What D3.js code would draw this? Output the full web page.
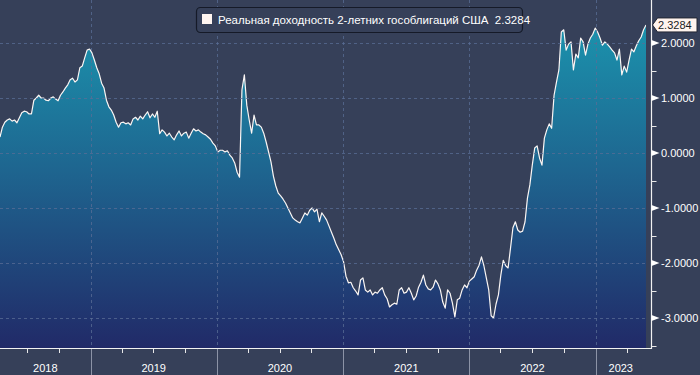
<!DOCTYPE html>
<html>
<head>
<meta charset="utf-8">
<script src="https://cdn.jsdelivr.net/npm/d3@7"></script>
<style>
  html, body { margin: 0; padding: 0; background: #364059; }
  svg { display: block; }
  text { font-family: "Liberation Sans", Arial, sans-serif; }
</style>
</head>
<body>
<script>
// weekly series, first value on startDate
var startDate = new Date(2018, 3, 14);
var yields = [
  0.29, 0.47, 0.56, 0.60, 0.62, 0.58, 0.60, 0.55, 0.64, 0.73,
  0.76, 0.75, 0.71, 0.71, 0.96, 1.00, 1.05, 1.00, 1.00, 0.96,
  0.95, 1.00, 1.02, 0.98, 0.95, 1.05, 1.11, 1.18, 1.24, 1.33,
  1.36, 1.29, 1.33, 1.55, 1.58, 1.73, 1.87, 1.89, 1.82, 1.69,
  1.55, 1.44, 1.27, 1.18, 0.96, 0.84, 0.78, 0.69, 0.56, 0.47,
  0.55, 0.56, 0.53, 0.55, 0.51, 0.62, 0.65, 0.60, 0.67, 0.62,
  0.69, 0.75, 0.64, 0.71, 0.65, 0.76, 0.35, 0.42, 0.38, 0.31,
  0.36, 0.29, 0.24, 0.33, 0.40, 0.31, 0.36, 0.38, 0.27, 0.36,
  0.44, 0.40, 0.42, 0.38, 0.35, 0.33, 0.29, 0.25, 0.18, 0.13,
  0.02, 0.05, 0.05, 0.02, 0.04, -0.04, -0.09, -0.18, -0.35, -0.44,
  1.15, 1.42, 0.87, 0.60, 0.36, 0.69, 0.51, 0.51, 0.47, 0.36,
  0.20, 0.02, -0.16, -0.42, -0.60, -0.73, -0.78, -0.84, -0.91, -1.00,
  -1.09, -1.18, -1.22, -1.25, -1.27, -1.18, -1.09, -1.13, -1.04, -1.00,
  -1.07, -1.02, -1.25, -1.09, -1.15, -1.22, -1.33, -1.44, -1.55, -1.67,
  -1.76, -1.85, -1.98, -2.24, -2.36, -2.35, -2.45, -2.51, -2.58, -2.31,
  -2.27, -2.49, -2.53, -2.49, -2.58, -2.53, -2.55, -2.49, -2.45, -2.58,
  -2.65, -2.80, -2.76, -2.73, -2.75, -2.49, -2.45, -2.55, -2.53, -2.45,
  -2.55, -2.67, -2.60, -2.44, -2.35, -2.22, -2.40, -2.47, -2.49, -2.44,
  -2.31, -2.38, -2.49, -2.71, -2.82, -2.49, -2.55, -2.73, -2.98, -2.67,
  -2.64, -2.49, -2.40, -2.45, -2.33, -2.29, -2.25, -2.13, -2.04, -1.89,
  -2.05, -2.27, -2.49, -2.96, -3.00, -2.75, -2.58, -2.22, -1.95, -2.05,
  -2.09, -1.73, -1.36, -1.25, -1.40, -1.44, -1.42, -1.25, -0.82, -0.58,
  -0.22, 0.09, 0.13, -0.09, -0.22, 0.27, 0.42, 0.53, 0.45, 1.05,
  1.29, 1.51, 2.20, 2.24, 1.87, 1.98, 2.02, 1.51, 1.80, 1.73,
  2.09, 2.02, 1.78, 1.98, 2.09, 2.16, 2.27, 2.20, 2.09, 1.96,
  2.02, 1.98, 1.93, 1.87, 1.82, 1.69, 1.89, 1.42, 1.58, 1.47,
  1.69, 1.89, 1.84, 1.95, 2.04, 2.11, 2.24, 2.3284
];
var yTicks = [-3, -2, -1, 0, 1, 2];
var yMinorTicks = [-3.5, -2.5, -1.5, -0.5, 0.5, 1.5];
var yearLabels = ["2018", "2019", "2020", "2021", "2022", "2023"];
var seriesName = "Реальная доходность 2-летних гособлигаций США";
var lastValue = 2.3284;

var W = 700, H = 375,
    plotRight = 646, axisX = 651.5, axisY = 348;

var data = yields.map(function(v, i) {
  return { date: d3.timeDay.offset(startDate, 7 * i), value: v };
});

var x = d3.scaleTime()
  .domain(d3.extent(data, function(d) { return d.date; }))
  .range([0, plotRight]);
var y = d3.scaleLinear()
  .domain([-3, 2])
  .range([318, 43]);

var svg = d3.select("body").append("svg")
  .attr("width", W)
  .attr("height", H);

var defs = svg.append("defs");
var grad = defs.append("linearGradient")
  .attr("id", "fillGrad")
  .attr("gradientUnits", "userSpaceOnUse")
  .attr("x1", 0).attr("x2", 0)
  .attr("y1", 20).attr("y2", axisY);
grad.append("stop").attr("offset", "0%").attr("stop-color", "#1b94ae");
grad.append("stop").attr("offset", "45%").attr("stop-color", "#1e6690");
grad.append("stop").attr("offset", "100%").attr("stop-color", "#212a68");

defs.append("clipPath").attr("id", "plotClip")
  .append("rect").attr("x", 0).attr("y", 0)
  .attr("width", plotRight).attr("height", axisY);

var area = d3.area()
  .x(function(d) { return x(d.date); })
  .y0(axisY)
  .y1(function(d) { return y(d.value); });
var line = d3.line()
  .x(function(d) { return x(d.date); })
  .y(function(d) { return y(d.value); });

var plot = svg.append("g").attr("clip-path", "url(#plotClip)");
plot.append("path")
  .datum(data)
  .attr("d", area)
  .attr("fill", "url(#fillGrad)");

// grid
var years = d3.timeYear.range(d3.timeYear.ceil(x.domain()[0]), x.domain()[1]);
var grid = svg.append("g");
grid.selectAll(".gy").data(yTicks).enter().append("line")
  .attr("x1", 0).attr("x2", plotRight)
  .attr("y1", function(d) { return Math.round(y(d)) + 0.5; })
  .attr("y2", function(d) { return Math.round(y(d)) + 0.5; })
  .attr("stroke", "#5a6e96").attr("stroke-opacity", 0.75)
  .attr("stroke-dasharray", "3,3");
grid.selectAll(".gx").data(years).enter().append("line")
  .attr("x1", function(d) { return Math.round(x(d)) + 0.5; })
  .attr("x2", function(d) { return Math.round(x(d)) + 0.5; })
  .attr("y1", 0).attr("y2", axisY)
  .attr("stroke", "#5a6e96").attr("stroke-opacity", 0.75)
  .attr("stroke-dasharray", "3,3");

plot.append("path")
  .datum(data)
  .attr("d", line)
  .attr("fill", "none")
  .attr("stroke", "#fbf6f4")
  .attr("stroke-width", 1.2)
  .attr("stroke-linejoin", "round");

// bottom axis
var xAxis = svg.append("g").attr("transform", "translate(0," + axisY + ")");
xAxis.append("line")
  .attr("x1", 0).attr("x2", axisX + 0.5)
  .attr("y1", 0.5).attr("y2", 0.5)
  .attr("stroke", "#f2f2f2").attr("stroke-width", 1.2);
var quarters = d3.timeMonth.every(3).range(x.domain()[0], x.domain()[1]);
xAxis.selectAll(".qt").data(quarters).enter().append("line")
  .attr("x1", function(d) { return Math.round(x(d)) + 0.5; })
  .attr("x2", function(d) { return Math.round(x(d)) + 0.5; })
  .attr("y1", 1).attr("y2", 5)
  .attr("stroke", "#e8e8e8");
xAxis.selectAll(".ysep").data(years).enter().append("line")
  .attr("x1", function(d) { return Math.round(x(d)) + 0.5; })
  .attr("x2", function(d) { return Math.round(x(d)) + 0.5; })
  .attr("y1", 1).attr("y2", H - axisY)
  .attr("stroke", "#8c93a6");
xAxis.selectAll(".yl").data(yearLabels).enter().append("text")
  .attr("x", function(d) {
    var a = Math.max(0, x(new Date(+d, 0, 1)));
    var b = Math.min(plotRight, x(new Date(+d + 1, 0, 1)));
    return (a + b) / 2;
  })
  .attr("y", 24)
  .attr("text-anchor", "middle")
  .attr("fill", "#ffffff")
  .attr("font-size", "11px")
  .text(function(d) { return d; });

// right axis
var yAxis = svg.append("g");
yAxis.append("line")
  .attr("x1", axisX).attr("x2", axisX)
  .attr("y1", 0).attr("y2", axisY + 1)
  .attr("stroke", "#f2f2f2").attr("stroke-width", 1.2);
yAxis.selectAll(".mt").data(yMinorTicks).enter().append("line")
  .attr("x1", axisX).attr("x2", axisX + 5)
  .attr("y1", function(d) { return Math.round(y(d)) + 0.5; })
  .attr("y2", function(d) { return Math.round(y(d)) + 0.5; })
  .attr("stroke", "#e8e8e8");
yAxis.selectAll(".tri").data(yTicks).enter().append("path")
  .attr("d", function(d) {
    var yy = y(d);
    return "M" + axisX + "," + (yy - 3) + "L" + (axisX + 8) + "," + yy + "L" + axisX + "," + (yy + 3) + "Z";
  })
  .attr("fill", "#ffffff");
yAxis.selectAll(".yl").data(yTicks).enter().append("text")
  .attr("x", 661)
  .attr("y", function(d) { return y(d) + 4; })
  .attr("fill", "#ffffff")
  .attr("font-size", "11px")
  .text(function(d) { return d3.format(".4f")(d).replace("−", "-"); });

// last value tag
var ly = y(lastValue);
svg.append("path")
  .attr("d", "M" + (axisX + 1) + "," + ly + "L" + (axisX + 6) + "," + (ly - 7) + "L697," + (ly - 7) +
    "L697," + (ly + 7) + "L" + (axisX + 6) + "," + (ly + 7) + "Z")
  .attr("fill", "#fff4ee")
  .attr("stroke", "#222633");
svg.append("text")
  .attr("x", 658)
  .attr("y", ly + 4)
  .attr("fill", "#1a1d26")
  .attr("font-size", "11px")
  .text(lastValue.toFixed(4));

// legend
var legend = svg.append("g");
legend.append("rect")
  .attr("x", 196.5).attr("y", 7.5)
  .attr("width", 326).attr("height", 25)
  .attr("rx", 4)
  .attr("fill", "#364059")
  .attr("stroke", "#151a28")
  .attr("stroke-width", 1.2);
legend.append("rect")
  .attr("x", 202).attr("y", 14)
  .attr("width", 10).attr("height", 10)
  .attr("fill", "#fff5f0");
legend.append("text")
  .attr("x", 218).attr("y", 24)
  .attr("fill", "#ffffff")
  .attr("font-size", "11.5px")
  .text(seriesName + "  " + lastValue.toFixed(4))
  .attr("xml:space", "preserve")
  .style("white-space", "pre");
</script>
</body>
</html>
